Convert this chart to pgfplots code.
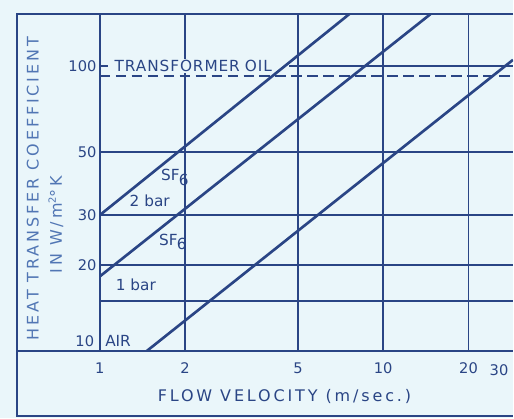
\documentclass[border=0pt]{standalone}
\usepackage{pgfplots}
\pgfplotsset{compat=1.18}
\usepackage{fontspec}
\setmainfont{DejaVu Sans}
\newfontfamily\spaced[LetterSpace=18]{DejaVu Sans}
\newfontfamily\lightspaced[LetterSpace=6]{DejaVu Sans}
\definecolor{paper}{HTML}{EAF6FA}
\definecolor{ink}{HTML}{2A4585}
\definecolor{softink}{HTML}{5176B4}

\newcommand{\lab}{\fontsize{11.5}{13}\selectfont}
\newcommand{\biglab}{\fontsize{12}{14}\selectfont}
\newcommand{\ticks}{\fontsize{11}{13}\selectfont}
\newcommand{\SFsix}{SF\kern-0.5pt\raisebox{-3.5pt}{6}}

\begin{document}
\begin{tikzpicture}
% paper (1 unit = one drawing pixel = 0.75pt)
\begin{scope}[x=0.75pt,y=0.75pt]
  \fill[paper] (-100,-67) rectangle (414,352);
\end{scope}

\begin{axis}[
  at={(0,0)}, anchor=south west, scale only axis,
  width=310.5pt, height=253.5pt,
  xmode=log, ymode=log,
  xmin=1, xmax=28.7, ymin=10, ymax=152,
  axis line style={draw=none},
  xtick={1,2,5,10,20}, xticklabels={1,2,5,10,20},
  ytick={10,15,20,30,50,100}, yticklabels={,,20,30,50,100},
  major tick length=0pt, minor tick length=0pt,
  grid=major,
  major grid style={ink, line width=1.4pt},
  /pgf/number format/assume math mode=true,
  tick label style={font=\ticks, text=ink},
  xticklabel style={yshift=-5pt},
  yticklabel style={xshift=1pt},
  clip=true,
]
% transformer oil level
\addplot[ink, line width=1.4pt, dash pattern=on 8pt off 4pt]
  coordinates {(1,92) (28.7,92)};
\node[fill=paper, anchor=west, inner sep=0pt, minimum height=11pt,
      text width=136pt, align=left, font=\lab\lightspaced, text=ink]
  at (axis cs:1.067,100) {\hspace*{5pt}TRANSFORMER OIL};

% SF6 at 2 bar
\addplot[ink, line width=2pt] coordinates {(1,30) (7.6,152)};
% SF6 at 1 bar
\addplot[ink, line width=2pt] coordinates {(1,18.3) (14.7,152)};
% air
\addplot[ink, line width=2pt] coordinates {(1.46,10) (28.7,105)};

\node[font=\lab, text=ink] at (axis cs:1.84,40.6) {\SFsix};
\node[font=\lab, text=ink] at (axis cs:1.50,33.7) {2 bar};
\node[font=\lab, text=ink] at (axis cs:1.81,24.2) {\SFsix};
\node[font=\lab, text=ink] at (axis cs:1.34,17.1) {1 bar};
\node[font=\lab, text=ink] at (axis cs:1.16,10.9) {AIR};
\end{axis}

% frame and labels
\begin{scope}[x=0.75pt,y=0.75pt]
  \draw[ink, line width=1.5pt, line join=miter]
    (414,338) -- (-83,338) -- (-83,-65) -- (414,-65);
  \draw[ink, line width=1.5pt] (-83,0) -- (414,0);
  \draw[ink, line width=1.5pt] (0,0) -- (0,338);
  \node[anchor=east, font=\ticks, text=ink] at (-1,10) {10};
  \node[font=\ticks, text=ink] at (400,-19) {30};
  \node[font=\biglab\spaced, text=ink] at (185,-45) {FLOW VELOCITY (m/sec.)};
  \node[rotate=90, font=\biglab\spaced, text=softink] at (-67,163)
    {HEAT TRANSFER COEFFICIENT};
  \node[rotate=90, font=\biglab\spaced, text=softink] at (-44,127)
    {IN W/m\raisebox{0.7ex}{\fontsize{7.5}{8}\selectfont 2}°K};
\end{scope}
\end{tikzpicture}
\end{document}
